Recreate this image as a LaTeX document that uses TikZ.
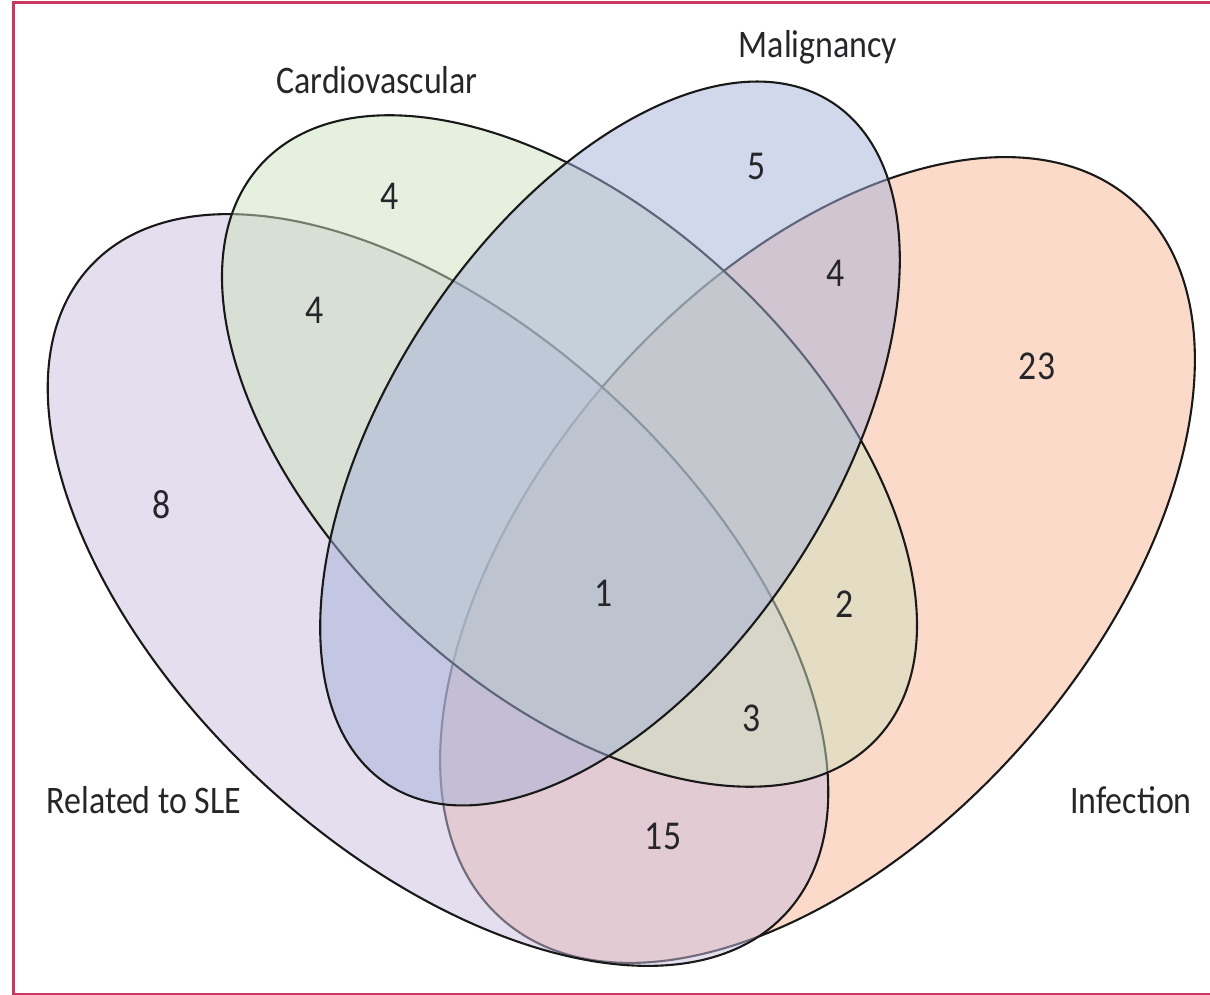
\documentclass[tikz,border=0pt]{standalone}
\usepackage{fontspec}
\setmainfont{Carlito}[FakeStretch=0.87]
\definecolor{sleC}{RGB}{201,189,221}
\definecolor{cardC}{RGB}{205,225,189}
\definecolor{maligC}{RGB}{165,177,217}
\definecolor{infC}{RGB}{249,181,149}
\definecolor{frameC}{RGB}{200,56,96}
\definecolor{inkC}{RGB}{38,38,42}
\begin{document}
\begin{tikzpicture}[x=1pt,y=1pt,
  outline/.style={draw=black!90, line width=2.1pt},
  setfill/.style={fill=#1, fill opacity=0.5},
  lab/.style={font=\fontsize{39}{39}\selectfont, text=inkC, inner sep=0pt},
  num/.style={font=\fontsize{41}{41}\selectfont, text=inkC, inner sep=0pt}]
\useasboundingbox (0,0) rectangle (1210,994);
\clip (0,0) rectangle (1210,994);
% frame
\draw[frameC, line width=3pt] (13.5,-0.8) rectangle (1230,991.5);
% Infection
\draw[outline, setfill=infC, rotate around={48.75:(817.5,434)}] (817.5,434) ellipse [x radius=478, y radius=276];
% Related to SLE
\draw[outline, setfill=sleC, rotate around={-43:(438,404)}] (438,404) ellipse [x radius=475, y radius=260.5];
% Cardiovascular
\draw[outline, setfill=cardC, rotate around={-43.1:(569.5,543)}] (569.5,543) ellipse [x radius=421, y radius=237];
% Malignancy
\draw[outline, setfill=maligC, rotate around={56.9:(610,550.5)}] (610,550.5) ellipse [x radius=407, y radius=222];
% set labels
\node[lab] (lcard) at (377,914) {Cardiovascular};
\node[lab] (lmal) at (818,947) {Malignancy};
\node[lab] (lsle) at (144,194) {Related to SLE};
\node[lab] (linf) at (1131,194) {Infection};
% counts
\node[num] (ncard) at (390,798) {4};
\node[num] (ncardsle) at (315,684) {4};
\node[num] (nsle) at (162,489) {8};
\node[num] (nmal) at (757,828) {5};
\node[num] (nmalinf) at (836,721) {4};
\node[num] (ninf) at (1037,628) {23};
\node[num] (nall) at (604,401) {1};
\node[num] (ncardinf) at (845,390) {2};
\node[num] (ncsi) at (752,276) {3};
\node[num] (nsleinf) at (663,158) {15};
\end{tikzpicture}
\end{document}
